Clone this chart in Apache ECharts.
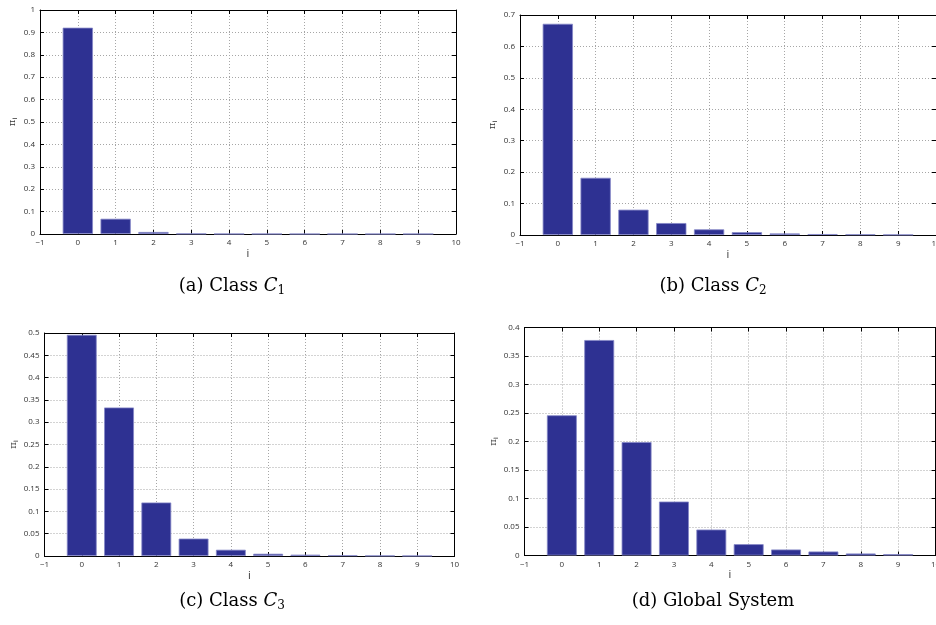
<!DOCTYPE html>
<html>
<head>
<meta charset="utf-8">
<script src="https://cdn.jsdelivr.net/npm/echarts@6/dist/echarts.min.js"></script>
<style>html,body{margin:0;padding:0;background:#fff;}#c{width:936px;height:625px;}</style>
</head>
<body>
<div id="c"></div>
<script>
// ---- data ----
const states = [0, 1, 2, 3, 4, 5, 6, 7, 8, 9];
const piC1 = [0.921, 0.068, 0.009, 0.0015, 0.0004, 0.0002, 0.0001, 0.0001, 0.0001, 0.0001];
const piC2 = [0.672, 0.182, 0.0806, 0.038, 0.018, 0.009, 0.005, 0.003, 0.002, 0.001];
const piC3 = [0.496, 0.333, 0.120, 0.039, 0.014, 0.005, 0.003, 0.0015, 0.0007, 0.0003];
const piGlobal = [0.246, 0.378, 0.199, 0.0946, 0.0455, 0.0199, 0.0105, 0.007, 0.0035, 0.0023];
const yMax = [1, 0.7, 0.5, 0.4];
const yStep = [0.1, 0.1, 0.05, 0.05];
const captions = ['(a) Class {it|C}{sub|1}', '(b) Class {it|C}{sub|2}', '(c) Class {it|C}{sub|3}', '(d) Global System'];
const xMin = -1, xMax = 10;

// ---- layout ----
const grids = [
  {left: 40, top: 10, width: 416, height: 224},
  {left: 520, top: 15, width: 416, height: 220},
  {left: 44.5, top: 333, width: 410, height: 223},
  {left: 524.5, top: 327.5, width: 411, height: 228}
];
const capPos = [[232, 286], [713, 286], [232, 601], [713, 601]];
const seriesData = [piC1, piC2, piC3, piGlobal];

const tickFont = {fontFamily: 'Open Sans', fontSize: 8, color: '#333'};
const gridLine = {show: true, lineStyle: {color: '#a6a6a6', type: [1, 2], width: 1}};
const axLine = {show: true, onZero: false, lineStyle: {color: '#000', width: 1}};
const tick = {show: true, inside: true, length: 4, lineStyle: {color: '#000', width: 1}};

const xAxes = [], yAxes = [], series = [], graphics = [];
grids.forEach((g, k) => {
  const bw = 0.8 * g.width / (xMax - xMin);
  xAxes.push({
    type: 'value', gridIndex: k, min: xMin, max: xMax, interval: 1, position: 'bottom',
    axisLine: axLine, axisTick: tick, splitLine: gridLine,
    axisLabel: Object.assign({margin: 5, formatter: v => String(v).replace('-', '\u2212')}, tickFont),
    name: 'i', nameLocation: 'middle', nameGap: 14,
    nameTextStyle: {fontFamily: 'Open Sans', fontSize: 11, color: '#333'}
  });
  xAxes.push({
    type: 'value', gridIndex: k, min: xMin, max: xMax, interval: 1, position: 'top',
    axisLine: axLine, axisTick: tick, splitLine: {show: false}, axisLabel: {show: false}
  });
  yAxes.push({
    type: 'value', gridIndex: k, min: 0, max: yMax[k], interval: yStep[k], position: 'left',
    axisLine: axLine, axisTick: tick, splitLine: gridLine,
    axisLabel: Object.assign({margin: 5}, tickFont),
    name: '{a|\u03c0}{b|i}', nameLocation: 'middle', nameGap: 22, nameRotate: 90,
    nameTextStyle: {rich: {a: {fontFamily: 'DejaVu Serif', fontSize: 10, color: '#333'},
                           b: {fontFamily: 'Open Sans', fontSize: 7, color: '#333', padding: [5, 0, 0, 0]}}}
  });
  yAxes.push({
    type: 'value', gridIndex: k, min: 0, max: yMax[k], interval: yStep[k], position: 'right',
    axisLine: axLine, axisTick: tick, splitLine: {show: false}, axisLabel: {show: false}
  });
  series.push({
    type: 'bar', xAxisIndex: 2 * k, yAxisIndex: 2 * k, barWidth: bw,
    data: states.map((s, i) => [s, seriesData[k][i]]),
    itemStyle: {color: '#2e3192', borderColor: '#8486c6', borderWidth: 0.8},
    silent: true, animation: false
  });
  graphics.push({
    type: 'text', x: capPos[k][0], y: capPos[k][1],
    style: {
      text: captions[k], align: 'center', verticalAlign: 'middle',
      fontFamily: 'DejaVu Serif', fontSize: 18, fill: '#000',
      rich: {
        it: {fontFamily: 'DejaVu Serif', fontStyle: 'italic', fontSize: 18, fill: '#000'},
        sub: {fontFamily: 'DejaVu Serif', fontSize: 12, fill: '#000', padding: [9, 0, 0, 0]}
      }
    }
  });
});

const chart = echarts.init(document.getElementById('c'), null, {renderer: 'canvas'});
chart.setOption({
  animation: false,
  backgroundColor: '#fff',
  grid: grids.map(g => Object.assign({containLabel: false, outerBoundsMode: 'none'}, g)),
  xAxis: xAxes, yAxis: yAxes, series: series, graphic: graphics
});
</script>
</body>
</html>
